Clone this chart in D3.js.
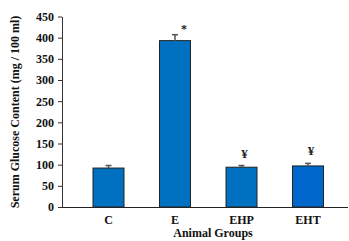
<!DOCTYPE html>
<html><head><meta charset="utf-8">
<script src="https://cdn.jsdelivr.net/npm/d3@7"></script>
<style>body{margin:0;background:#fff}svg{display:block}text{font-family:"Liberation Serif","Times New Roman",serif;font-weight:bold}</style>
</head><body>
<script>
const categories = ["C", "E", "EHP", "EHT"];
const values = [92, 393, 94, 97];
const errors = [6, 14, 4, 6];
const marks = ["", "*", "¥", "¥"];
const yTicks = [0, 50, 100, 150, 200, 250, 300, 350, 400, 450];

const W = 349, H = 241;
const svg = d3.select("body").append("svg").attr("width", W).attr("height", H);
const y = d3.scaleLinear().domain([0, 450]).range([207, 16.5]);
const x = d3.scaleBand().domain(categories).range([75.25, 341.25]).paddingInner(0.534).paddingOuter(0.267);

const gy = svg.append("g").attr("transform", "translate(62,0)")
  .call(d3.axisLeft(y).tickValues(yTicks).tickSize(4).tickSizeOuter(0));
gy.select(".domain").attr("stroke", "#333");
gy.selectAll(".tick line").attr("stroke", "#333");
gy.selectAll("text").attr("font-size", 12).attr("fill", "#111").attr("dx", -1);

svg.selectAll("rect.bar").data(categories).enter().append("rect")
  .attr("x", d => x(d)).attr("width", x.bandwidth())
  .attr("y", (d, i) => y(values[i])).attr("height", (d, i) => y(0) - y(values[i]))
  .attr("fill", (d, i) => i === 3 ? "#0068CC" : "#0070C0").attr("stroke", "#222").attr("stroke-width", 1);

const eb = svg.append("g").attr("stroke", "#555").attr("stroke-width", 1.5);
categories.forEach((c, i) => {
  const cx = x(c) + x.bandwidth() / 2;
  eb.append("line").attr("x1", cx).attr("x2", cx).attr("y1", y(values[i])).attr("y2", y(values[i] + errors[i]));
  eb.append("line").attr("x1", cx - 3).attr("x2", cx + 3).attr("y1", y(values[i] + errors[i])).attr("y2", y(values[i] + errors[i]));
});

categories.forEach((c, i) => {
  if (!marks[i]) return;
  const cx = x(c) + x.bandwidth() / 2 + (i === 1 ? 9 : 3);
  svg.append("text").attr("x", cx).attr("y", y(values[i] + errors[i]) - (i === 1 ? 2 : 8))
    .attr("text-anchor", "middle").attr("font-size", i === 1 ? 12 : 13).attr("fill", "#222").text(marks[i]);
});

const gx = svg.append("g").attr("transform", "translate(0,207)")
  .call(d3.axisBottom(x).tickSize(0).tickPadding(8));
gx.select(".domain").attr("d", "M62,0.5H348").attr("stroke", "#222");
gx.selectAll("text").attr("font-size", 12).attr("fill", "#111");

svg.append("text").attr("x", 213).attr("y", 237).attr("text-anchor", "middle")
  .attr("font-size", 12).attr("fill", "#111").text("Animal Groups");
svg.append("text").attr("transform", "translate(19,112) rotate(-90)").attr("text-anchor", "middle")
  .attr("font-size", 12).attr("fill", "#111").text("Serum Glucose Content (mg / 100 ml)");
</script>
</body></html>
